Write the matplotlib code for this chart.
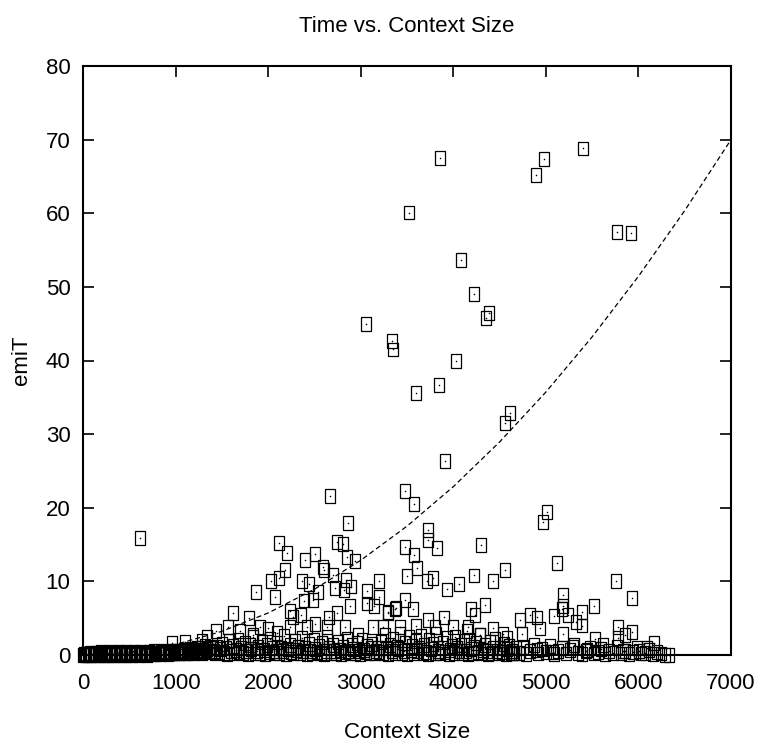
import numpy as np
import matplotlib
matplotlib.use("Agg")
import matplotlib.pyplot as plt

plt.rcParams['font.family'] = ['Liberation Sans', 'DejaVu Sans']

# outliers high up
top_x = [3857, 3525, 4983, 4897, 5401, 5765, 5920, 4083, 4227, 4383,
         4349, 3057, 3341, 3352, 4026, 3842, 3601, 4609, 4562, 3907]
top_y = [67.5, 60.1, 67.4, 65.2, 68.8, 57.5, 57.3, 53.6, 49.0, 46.4,
         45.8, 44.9, 42.6, 41.5, 39.9, 36.7, 35.6, 32.9, 31.5, 26.4]

# middle points, left half
left_x = [2668, 2863, 616, 2114, 2204, 2740, 2809, 2398, 2510, 2593,
          2600, 2186, 2855, 2935, 2697, 2027, 2114, 2369, 2441, 2539,
          2845, 2895, 2726, 2816, 1869, 2074, 2391, 2485, 2881, 3198,
          3068, 3198, 3068, 3147, 3298, 3381, 1617, 1793, 2740, 2661,
          2236, 2272, 2351, 2510, 2830, 1433, 1570, 1912, 2002, 2092,
          2236, 2416, 2632, 2967, 3136, 3244, 1102, 958, 1282, 1336,
          1696, 1840]
left_y = [21.6, 17.9, 15.9, 15.2, 13.9, 15.4, 15.1, 12.9, 13.7, 12.0,
          11.5, 11.6, 13.3, 12.8, 10.9, 10.1, 10.4, 10.0, 9.6, 8.6,
          10.2, 9.3, 9.1, 8.8, 8.5, 7.9, 7.4, 7.5, 6.7, 10.0,
          8.7, 7.9, 7.0, 6.6, 5.9, 6.4, 5.7, 5.0, 5.7, 5.1,
          6.0, 5.2, 5.4, 4.2, 3.8, 3.2, 3.8, 3.8, 3.6, 3.0,
          3.8, 3.8, 3.8, 2.7, 3.8, 3.8, 1.8, 1.6, 1.9, 2.5,
          3.2, 2.7]

# middle points, right half
right_x = [3478, 3572, 3730, 3730, 3824, 3478, 3572, 3604, 3503, 3712,
           3777, 3932, 4058, 4227, 4296, 4429, 4562, 5009, 4965, 5117,
           5758, 5931, 5188, 5181, 5522, 5386, 5243, 5085, 5326, 5386,
           5171, 3478, 3568, 3370, 3298, 3723, 3903, 3597, 3424, 3802,
           4000, 4187, 4235, 4343, 4162, 4432, 4721, 4832, 4904, 4746,
           4937, 5181, 5783, 5783, 5934, 5855, 5531, 5614, 6168, 6089,
           6003, 5837, 6287, 6330, 5440, 5297, 5080, 4901, 4649, 4540,
           4577, 4144, 4288]
right_y = [22.3, 20.5, 17.0, 15.6, 14.5, 14.7, 13.6, 11.8, 10.7, 10.0,
           10.4, 8.9, 9.7, 10.8, 15.0, 10.1, 11.5, 19.4, 18.1, 12.5,
           10.1, 7.8, 8.1, 6.6, 6.6, 5.9, 5.4, 5.3, 4.5, 4.0,
           6.3, 7.5, 6.2, 6.3, 5.7, 4.8, 5.1, 3.9, 3.8, 3.8,
           3.8, 6.3, 5.4, 6.8, 3.8, 3.6, 4.8, 5.4, 5.1, 2.9,
           3.6, 2.9, 3.8, 2.3, 3.1, 2.7, 2.2, 1.4, 1.6, 0.9,
           0.6, 0.5, 0.0, 0.0, 0.7, 1.1, 0.45, 0.7, 0.2, 2.9,
           2.3, 3.2, 2.7]

# dense band near zero, small contexts
band_a_x = [0, 12, 25, 37, 52, 64, 78, 90, 103, 117,
            130, 144, 157, 169, 184, 196, 210, 223, 236, 250,
            262, 277, 290, 303, 316, 330, 343, 357, 370, 384,
            397, 410, 424, 438, 451, 465, 478, 492, 505, 519,
            532, 546, 560, 573, 587, 600, 614, 628, 641, 655,
            668, 682, 696, 709, 723, 737, 750, 764, 778, 791,
            805, 819, 832, 846, 860, 873, 887, 901, 914, 928,
            942, 956, 969, 983, 997, 1011, 1024, 1038, 1052, 1066,
            1079, 1093, 1107, 1121, 1135, 1148, 1162, 1176, 1190, 1204,
            1218, 1232, 1245, 1259, 1273, 1287, 1301, 1315, 1329, 1343,
            1357, 1371, 1385, 1399]
band_a_y = [0.0, 0.1, 0.0, 0.2, 0.0, 0.1, 0.3, 0.0, 0.2, 0.1,
            0.0, 0.3, 0.1, 0.0, 0.2, 0.4, 0.1, 0.0, 0.3, 0.2,
            0.0, 0.1, 0.4, 0.2, 0.0, 0.3, 0.1, 0.0, 0.2, 0.4,
            0.1, 0.3, 0.0, 0.2, 0.1, 0.4, 0.0, 0.3, 0.2, 0.1,
            0.0, 0.4, 0.2, 0.1, 0.3, 0.0, 0.2, 0.4, 0.1, 0.3,
            0.1, 0.2, 0.0, 0.4, 0.2, 0.1, 0.3, 0.5, 0.1, 0.2,
            0.3, 0.2, 0.1, 0.4, 0.2, 0.5, 0.2, 0.3, 0.1, 0.4,
            0.3, 0.2, 0.5, 0.3, 0.2, 0.4, 0.6, 0.3, 0.2, 0.5,
            0.4, 0.7, 0.3, 0.5, 0.2, 0.6, 0.8, 0.4, 0.3, 0.7,
            0.5, 0.9, 0.4, 0.6, 1.0, 0.3, 0.7, 1.2, 0.5, 0.8,
            0.4, 1.1, 0.6, 0.9]

# dense band, medium contexts
band_b_x = [1410, 1428, 1447, 1466, 1484, 1503, 1521, 1540, 1559, 1578,
            1596, 1615, 1633, 1652, 1671, 1690, 1708, 1727, 1745, 1764,
            1783, 1801, 1820, 1839, 1857, 1876, 1895, 1913, 1932, 1951,
            1969, 1988, 2007, 2025, 2044, 2063, 2081, 2100, 2119, 2137,
            2156, 2175, 2193, 2212, 2231, 2249, 2268, 2287, 2305, 2324,
            2343, 2361, 2380, 2399, 2417, 2436, 2455, 2473, 2492, 2511,
            2529, 2548, 2567, 2585, 2604, 2623, 2641, 2660, 2679, 2697,
            2716, 2735, 2753, 2772, 2791, 2809, 2828, 2847, 2865, 2884,
            2903, 2921, 2940, 2959, 2977, 2996, 3015, 3033, 3052, 3071,
            3089, 3108, 3127, 3145, 3164, 3183]
band_b_y = [0.6, 0.2, 1.1, 0.4, 0.8, 1.5, 0.3, 0.9, 0.1, 1.9,
            0.5, 1.2, 0.2, 0.7, 2.1, 0.4, 1.0, 0.3, 1.6, 0.6,
            0.1, 1.3, 0.8, 2.4, 0.2, 0.5, 1.1, 0.3, 1.8, 0.7,
            0.1, 1.4, 0.4, 2.2, 0.9, 0.2, 0.6, 1.7, 0.3, 1.0,
            0.5, 2.6, 0.1, 0.8, 1.3, 0.4, 0.2, 1.9, 0.7, 1.1,
            0.3, 2.3, 0.5, 0.9, 0.1, 1.5, 0.6, 0.2, 2.0, 0.8,
            0.4, 1.2, 0.3, 1.7, 0.1, 0.6, 2.5, 0.9, 0.2, 1.4,
            0.5, 0.3, 1.8, 0.7, 0.1, 1.1, 0.4, 2.2, 0.6, 0.2,
            1.3, 0.8, 0.3, 1.6, 0.5, 0.1, 2.0, 0.7, 0.4, 1.2,
            0.2, 0.9, 1.5, 0.3, 0.6, 1.0]

# dense band, larger contexts
band_c_x = [3202, 3221, 3239, 3258, 3277, 3295, 3314, 3333, 3351, 3370,
            3389, 3407, 3426, 3445, 3463, 3482, 3501, 3519, 3538, 3557,
            3575, 3594, 3613, 3631, 3650, 3669, 3687, 3706, 3725, 3743,
            3762, 3781, 3799, 3818, 3837, 3855, 3874, 3893, 3911, 3930,
            3949, 3967, 3986, 4005, 4023, 4042, 4061, 4079, 4098, 4117,
            4135, 4154, 4173, 4191, 4210, 4229, 4247, 4266, 4285, 4303,
            4322, 4341, 4359, 4378, 4397, 4415, 4434, 4453, 4471, 4490,
            4509, 4527, 4546, 4565, 4583, 4602, 4621, 4639, 4658, 4677]
band_c_y = [0.4, 1.8, 0.2, 2.7, 0.9, 0.1, 1.4, 0.6, 2.2, 0.3,
            1.1, 0.8, 2.9, 0.2, 0.5, 1.6, 0.1, 2.4, 0.7, 1.2,
            0.3, 1.9, 0.5, 0.9, 2.6, 0.2, 1.3, 0.4, 0.1, 2.0,
            0.8, 1.5, 0.3, 2.8, 0.6, 0.2, 1.0, 1.7, 0.4, 2.3,
            0.1, 0.7, 1.2, 0.3, 2.5, 0.9, 0.5, 1.4, 0.2, 1.9,
            0.6, 0.1, 2.1, 0.8, 0.3, 1.1, 1.6, 0.4, 2.7, 0.2,
            0.7, 1.3, 0.5, 0.1, 1.8, 0.3, 0.9, 2.2, 0.6, 0.2,
            1.0, 0.4, 1.5, 0.1, 0.8, 1.2, 0.3, 0.6, 0.2, 0.9]

# sparse band, largest contexts
band_d_x = [4705, 4748, 4790, 4833, 4876, 4918, 4961, 5004, 5046, 5089,
            5132, 5174, 5217, 5260, 5302, 5345, 5388, 5430, 5473, 5516,
            5558, 5601, 5644, 5686, 5729, 5772, 5814, 5857, 5900, 5942,
            5985, 6028, 6070, 6113, 6156, 6198, 6241]
band_d_y = [0.3, 1.1, 0.1, 0.6, 1.4, 0.2, 0.8, 0.4, 1.2, 0.1,
            0.5, 0.9, 0.2, 0.7, 1.3, 0.3, 0.1, 0.6, 1.0, 0.2,
            0.4, 0.8, 0.1, 0.5, 0.3, 1.1, 0.2, 0.6, 0.1, 0.4,
            0.9, 0.2, 0.3, 0.7, 0.1, 0.4, 0.2]

# dashed fit curve
fit_x = [0, 500, 1000, 1500, 2000, 2500, 3000, 3500, 4000, 4500,
         5000, 5500, 6000, 6500, 7000]
fit_y = [0.0, 0.36, 1.43, 3.21, 5.71, 8.93, 12.86, 17.5, 22.86, 28.93,
         35.71, 43.21, 51.43, 60.36, 70.0]

xs = band_a_x + band_b_x + band_c_x + band_d_x + left_x + right_x + top_x
ys = band_a_y + band_b_y + band_c_y + band_d_y + left_y + right_y + top_y

fig = plt.figure(figsize=(7.57, 7.44), dpi=100)
ax = fig.add_axes([83 / 757, 1 - 655 / 744, 648 / 757, 589 / 744])

ax.plot(fit_x, fit_y, color='black', lw=0.9, dashes=(4, 2.5))

# tall hollow box with a dot in the middle, like the gnuplot points
box = [(-0.36, -0.5), (0.36, -0.5), (0.36, 0.5), (-0.36, 0.5), (-0.36, -0.5)]
ax.scatter(xs, ys, marker=box, s=100, facecolors='none',
           edgecolors='black', linewidths=0.9, clip_on=False, zorder=3)
ax.scatter(xs, ys, marker='o', s=1.3, color='black', linewidths=0,
           clip_on=False, zorder=3)

ax.set_xlim(0, 7000)
ax.set_ylim(0, 80)
ax.set_xticks(range(0, 7001, 1000))
ax.set_yticks(range(0, 81, 10))
ax.tick_params(direction='in', length=8, width=1.2, labelsize=16,
               top=True, right=True, pad=9)
ax.tick_params(axis='x', pad=13)
for s in ax.spines.values():
    s.set_linewidth(1.5)
    s.set_zorder(4)

cx = (83 + 731) / 2 / 757
fig.text(cx, 1 - 32 / 744, 'Time vs. Context Size', ha='center',
         va='baseline', fontsize=16)
fig.text(cx, 1 - 738 / 744, 'Context Size', ha='center', va='baseline',
         fontsize=16)
fig.text(22 / 757, 1 - 360 / 744, 'emiT', rotation=90, ha='center',
         va='center', fontsize=16)

fig.savefig('out.png', dpi=100)
